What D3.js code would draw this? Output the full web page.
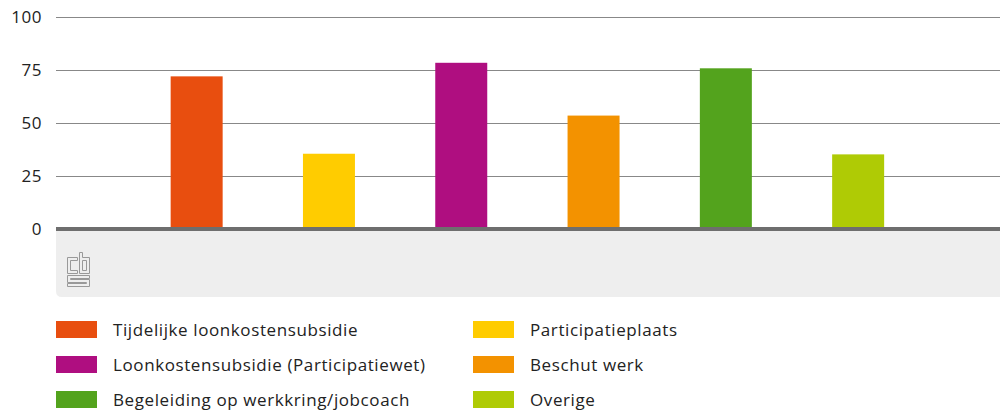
<!DOCTYPE html>
<html>
<head>
<meta charset="utf-8">
<script src="https://cdn.jsdelivr.net/npm/d3@7"></script>
<style>
  body { margin: 0; background: #fff; }
  svg { display: block; font-family: 'Open Sans', Roboto, sans-serif; }
</style>
</head>
<body>
<svg id="chart" width="1000" height="411"></svg>
<script>
'use strict'

var categories = [
	'Tijdelijke loonkostensubsidie',
	'Participatieplaats',
	'Loonkostensubsidie (Participatiewet)',
	'Beschut werk',
	'Begeleiding op werkkring/jobcoach',
	'Overige'
];
var values = [72, 35.5, 78.4, 53.5, 75.8, 35.2];
var colors = ['#e84e0f', '#ffcc00', '#af0e80', '#f39200', '#53a31d', '#afcb05'];
var yTicks = [0, 25, 50, 75, 100];

var svg = d3.select('#chart');
var plotLeft = 56, plotRight = 1000, plotTop = 17, plotBottom = 229;

var yScale = d3.scaleLinear().domain([0, 100]).range([plotBottom, plotTop]);
var xScale = d3.scaleBand()
	.domain(categories)
	.range([130.5, 924.3])
	.paddingInner(0.607)
	.paddingOuter(0.3035);

// grey footer panel with logo
svg.append('path')
	.attr('d', `M${plotLeft},${plotBottom} H${plotRight} V297 H${plotLeft + 6} Q${plotLeft},297 ${plotLeft},291 Z`)
	.attr('fill', '#eeeeee');

var logo = svg.append('g')
	.attr('transform', 'translate(67.5,252.5)')
	.attr('fill', 'none')
	.attr('stroke', '#999')
	.attr('stroke-width', 1);
logo.append('path').attr('d', 'M0,5 H10 V8 H3 V18 H10 V21 H0 Z');
logo.append('path').attr('d', 'M12,0 H15 V5 H22 V21 H12 Z M15,8 V18 H19 V8 Z');
logo.append('path').attr('d', 'M0,23 H22 V26 H3 V27 H22 V34 H0 V31 H19 V30 H0 Z');

// gridlines
var yAxis = svg.append('g')
	.attr('transform', `translate(${plotLeft},0)`)
	.call(d3.axisLeft(yScale).tickValues(yTicks).tickSize(-(plotRight - plotLeft)).tickPadding(14));
yAxis.select('.domain').remove();
yAxis.selectAll('.tick line')
	.attr('stroke', '#888')
	.attr('stroke-width', 1);
yAxis.selectAll('.tick text')
	.attr('fill', '#222')
	.attr('font-size', 17)
	.attr('letter-spacing', 0.5)
	.attr('font-family', "'Open Sans', sans-serif");

// bars
svg.append('g')
	.selectAll('rect')
	.data(categories)
	.enter()
	.append('rect')
	.attr('x', function(d){ return xScale(d); })
	.attr('width', xScale.bandwidth())
	.attr('y', function(d, i){ return yScale(values[i]); })
	.attr('height', function(d, i){ return plotBottom - yScale(values[i]); })
	.attr('fill', function(d, i){ return colors[i]; });

// zero line
svg.append('line')
	.attr('x1', plotLeft).attr('x2', plotRight)
	.attr('y1', plotBottom).attr('y2', plotBottom)
	.attr('stroke', '#6e6e6e')
	.attr('stroke-width', 4);

// legend
var legend = svg.append('g')
	.selectAll('g')
	.data(categories)
	.enter()
	.append('g')
	.attr('transform', function(d, i){
		return `translate(${i % 2 === 0 ? 56 : 473},${321 + Math.floor(i / 2) * 35})`;
	});
legend.append('rect')
	.attr('width', 41)
	.attr('height', 17)
	.attr('fill', function(d, i){ return colors[i]; });
legend.append('text')
	.attr('x', 57)
	.attr('y', 15)
	.attr('font-size', 17)
	.attr('letter-spacing', 0.6)
	.attr('fill', '#222')
	.text(function(d){ return d; });
</script>
</body>
</html>
